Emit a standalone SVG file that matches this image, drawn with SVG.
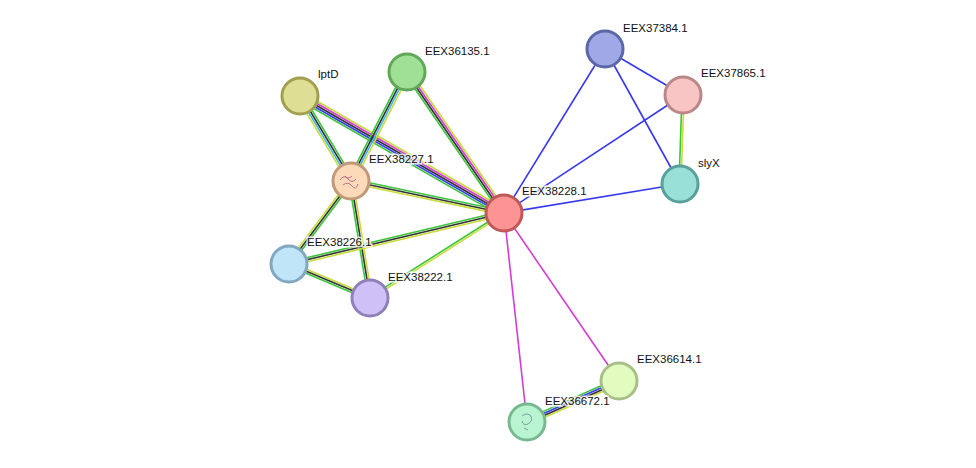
<svg xmlns="http://www.w3.org/2000/svg" width="976" height="468" viewBox="0 0 976 468">
<style>
.e line{stroke-width:1.6;fill:none}
.n circle{stroke-width:3}
text{font-family:"Liberation Sans",Arial,sans-serif;font-size:11.5px;fill:#111;stroke:#fff;stroke-width:3;paint-order:stroke;stroke-opacity:0.8}
.g{stroke:#3cc43c}.k{stroke:#333}.y{stroke:#c8dc3c}.m{stroke:#d43cd4}.b{stroke:#3838f0}.c{stroke:#40b8e8}
</style>
<rect width="976" height="468" fill="#fff"/>
<g id="connectors" class="e">
<g transform="translate(300,96) rotate(29.84)"><line class="y" x1="0" y1="-4" x2="235" y2="-4"/><line class="m" x1="0" y1="-2" x2="235" y2="-2"/><line class="k" x1="0" y1="0" x2="235" y2="0"/><line class="b" x1="0" y1="2" x2="235" y2="2"/><line class="g" x1="0" y1="4" x2="235" y2="4"/></g>
<g transform="translate(300,96) rotate(59.04)"><line class="g" x1="0" y1="-3" x2="99" y2="-3"/><line class="k" x1="0" y1="-1" x2="99" y2="-1"/><line class="c" x1="0" y1="1" x2="99" y2="1"/><line class="y" x1="0" y1="3" x2="99" y2="3"/></g>
<g transform="translate(407,72) rotate(55.47)"><line class="y" x1="0" y1="-3" x2="171" y2="-3"/><line class="m" x1="0" y1="-1" x2="171" y2="-1"/><line class="k" x1="0" y1="1" x2="171" y2="1"/><line class="g" x1="0" y1="3" x2="171" y2="3"/></g>
<g transform="translate(407,72) rotate(117.2)"><line class="y" x1="0" y1="-3" x2="122" y2="-3"/><line class="c" x1="0" y1="-1" x2="122" y2="-1"/><line class="k" x1="0" y1="1" x2="122" y2="1"/><line class="g" x1="0" y1="3" x2="122" y2="3"/></g>
<g transform="translate(351,181) rotate(11.81)"><line class="g" x1="0" y1="-2" x2="156" y2="-2"/><line class="k" x1="0" y1="0" x2="156" y2="0"/><line class="y" x1="0" y1="2" x2="156" y2="2"/></g>
<g transform="translate(351,181) rotate(126.76)"><line class="g" x1="0" y1="-2" x2="104" y2="-2"/><line class="k" x1="0" y1="0" x2="104" y2="0"/><line class="y" x1="0" y1="2" x2="104" y2="2"/></g>
<g transform="translate(351,181) rotate(80.78)"><line class="y" x1="0" y1="-2" x2="118" y2="-2"/><line class="k" x1="0" y1="0" x2="118" y2="0"/><line class="g" x1="0" y1="2" x2="118" y2="2"/></g>
<g transform="translate(289,264) rotate(-13.34)"><line class="g" x1="0" y1="-2" x2="221" y2="-2"/><line class="k" x1="0" y1="0" x2="221" y2="0"/><line class="y" x1="0" y1="2" x2="221" y2="2"/></g>
<g transform="translate(289,264) rotate(22.77)"><line class="y" x1="0" y1="-2" x2="88" y2="-2"/><line class="k" x1="0" y1="0" x2="88" y2="0"/><line class="g" x1="0" y1="2" x2="88" y2="2"/></g>
<g transform="translate(370,298) rotate(-32.39)"><line class="g" x1="0" y1="-1" x2="159" y2="-1"/><line class="y" x1="0" y1="1" x2="159" y2="1"/></g>
<line class="b" x1="504" y1="213" x2="605" y2="49"/>
<line class="b" x1="504" y1="213" x2="683" y2="95"/>
<line class="b" x1="504" y1="213" x2="680" y2="184"/>
<line class="b" x1="605" y1="49" x2="683" y2="95"/>
<line class="b" x1="605" y1="49" x2="680" y2="184"/>
<g transform="translate(683,95) rotate(91.93)"><line class="y" x1="0" y1="-1" x2="89" y2="-1"/><line class="g" x1="0" y1="1" x2="89" y2="1"/></g>
<line class="m" x1="504" y1="213" x2="619" y2="381"/>
<line class="m" x1="504" y1="213" x2="527" y2="422"/>
<g transform="translate(619,381) rotate(155.98)"><line class="y" x1="0" y1="-3" x2="101" y2="-3"/><line class="k" x1="0" y1="-1" x2="101" y2="-1"/><line class="b" x1="0" y1="1" x2="101" y2="1"/><line class="g" x1="0" y1="3" x2="101" y2="3"/></g>
</g>
<g id="lptD" class="n"><circle cx="300" cy="96" r="18" fill="#dede94" stroke="#a0a050"/><text x="318" y="78">lptD</text></g>
<g id="EEX36135.1" class="n"><circle cx="407" cy="72" r="18" fill="#a0e096" stroke="#60a856"/><text x="425" y="55">EEX36135.1</text></g>
<g id="EEX38227.1" class="n"><circle cx="351" cy="181" r="18" fill="#fcd9b8" stroke="#c09a78"/><g stroke="#b05880" stroke-width="0.8" fill="none"><path d="M340 180 q4 -6 8 -1 t8 0 M343 185 q5 -4 9 1 t6 -2 M345 176 q3 4 7 0"/></g><text x="369" y="163">EEX38227.1</text></g>
<g id="EEX38228.1" class="n"><circle cx="504" cy="213" r="18" fill="#fc9494" stroke="#c05858"/><text x="522" y="195">EEX38228.1</text></g>
<g id="EEX37384.1" class="n"><circle cx="605" cy="49" r="18" fill="#a0a8e6" stroke="#5a68a8"/><text x="623" y="32">EEX37384.1</text></g>
<g id="EEX37865.1" class="n"><circle cx="683" cy="95" r="18" fill="#f8c4c4" stroke="#b88888"/><text x="701" y="77">EEX37865.1</text></g>
<g id="slyX" class="n"><circle cx="680" cy="184" r="18" fill="#98e0d8" stroke="#58a098"/><text x="698" y="167">slyX</text></g>
<g id="EEX38226.1" class="n"><circle cx="289" cy="264" r="18" fill="#c0e4f8" stroke="#80a8c0"/><text x="307" y="246">EEX38226.1</text></g>
<g id="EEX38222.1" class="n"><circle cx="370" cy="298" r="18" fill="#d0c0f8" stroke="#9080b8"/><text x="388" y="281">EEX38222.1</text></g>
<g id="EEX36614.1" class="n"><circle cx="619" cy="381" r="18" fill="#e2fcc0" stroke="#a8c088"/><text x="637" y="363">EEX36614.1</text></g>
<g id="EEX36672.1" class="n"><circle cx="527" cy="422" r="18" fill="#b8f4d0" stroke="#78b890"/><g stroke="#6888a0" stroke-width="0.8" fill="none"><path d="M522 416 q5 -4 9 0 q2 5 -3 8 q-5 2 -6 -3 M524 428 l4 2"/></g><text x="545" y="405">EEX36672.1</text></g>
</svg>
